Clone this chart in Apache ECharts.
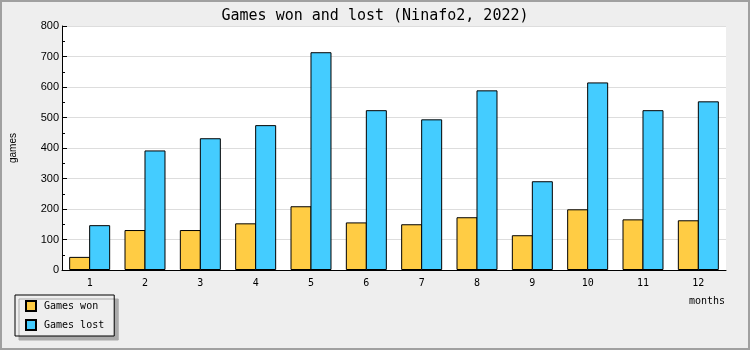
<!DOCTYPE html>
<html>
<head>
<meta charset="utf-8">
<script src="https://cdn.jsdelivr.net/npm/echarts@6/dist/echarts.min.js"></script>
<style>html,body{margin:0;padding:0;background:#eeeeee;}#c{width:750px;height:350px;}</style>
</head>
<body>
<div id="c"></div>
<script>
const months = ['1','2','3','4','5','6','7','8','9','10','11','12'];
const gamesWon = [43, 131, 131, 153, 209, 156, 150, 173, 114, 199, 166, 163];
const gamesLost = [147, 392, 432, 475, 714, 524, 494, 589, 291, 615, 524, 553];
const yTicks = [0, 100, 200, 300, 400, 500, 600, 700, 800];

const mono = 'DejaVu Sans Mono';
const chart = echarts.init(document.getElementById('c'), null, {renderer: 'canvas'});
chart.setOption({
  backgroundColor: '#eeeeee',
  animation: false,
  title: {
    text: 'Games won and lost (Ninafo2, 2022)',
    left: 'center', top: 4,
    textStyle: {fontFamily: mono, fontSize: 15, fontWeight: 'normal', color: '#000'}
  },
  legend: {
    orient: 'vertical', left: 15, top: 295, icon: 'rect',
    padding: [5, 10, 5, 10], itemWidth: 10, itemHeight: 10, itemGap: 7,
    backgroundColor: '#eeeeee', borderColor: '#000', borderWidth: 1,
    shadowColor: '#aaaaaa', shadowOffsetX: 4, shadowOffsetY: 4, shadowBlur: 0,
    textStyle: {fontFamily: mono, fontSize: 10, color: '#000', padding: [0, 0, 0, 3]},
    data: ['Games won', 'Games lost']
  },
  grid: {left: 61, right: 24, top: 26, bottom: 80, show: true, backgroundColor: '#fff', borderWidth: 0},
  xAxis: {
    type: 'category', data: months,
    axisLine: {lineStyle: {color: '#000', width: 1}},
    axisTick: {inside: true, length: 5, lineStyle: {color: '#000'}},
    axisLabel: {fontFamily: mono, fontSize: 10, color: '#000', margin: 8}
  },
  yAxis: {
    type: 'value', min: yTicks[0], max: yTicks[yTicks.length - 1], interval: 100,
    name: 'games', nameLocation: 'middle', nameGap: 44, nameRotate: 90,
    nameTextStyle: {fontFamily: 'Liberation Sans', fontSize: 10, color: '#000'},
    axisLine: {show: true, lineStyle: {color: '#000', width: 1}},
    axisTick: {show: true, inside: true, length: 5, lineStyle: {color: '#000'}},
    minorTick: {show: true, splitNumber: 2, length: 3, lineStyle: {color: '#000'}},
    splitLine: {lineStyle: {color: '#dddddd', width: 1}},
    axisLabel: {fontFamily: 'Liberation Sans', fontSize: 11, color: '#000', margin: 3}
  },
  series: [
    {name: 'Games won', type: 'bar', data: gamesWon, barWidth: 21, barGap: '-4.8%',
     itemStyle: {color: '#ffcc44', borderColor: '#000', borderWidth: 1, borderRadius: 0}},
    {name: 'Games lost', type: 'bar', data: gamesLost, barWidth: 21, barGap: '-4.8%',
     itemStyle: {color: '#44ccff', borderColor: '#000', borderWidth: 1, borderRadius: 0}}
  ],
  graphic: [
    {type: 'rect', shape: {x: 1, y: 1, width: 748, height: 348}, style: {fill: null, stroke: '#a0a0a0', lineWidth: 2}, silent: true, z: 100},
    {type: 'text', right: 25, top: 296, style: {text: 'months', fontFamily: mono, fontSize: 10, fill: '#000'}}
  ]
});
</script>
</body>
</html>
